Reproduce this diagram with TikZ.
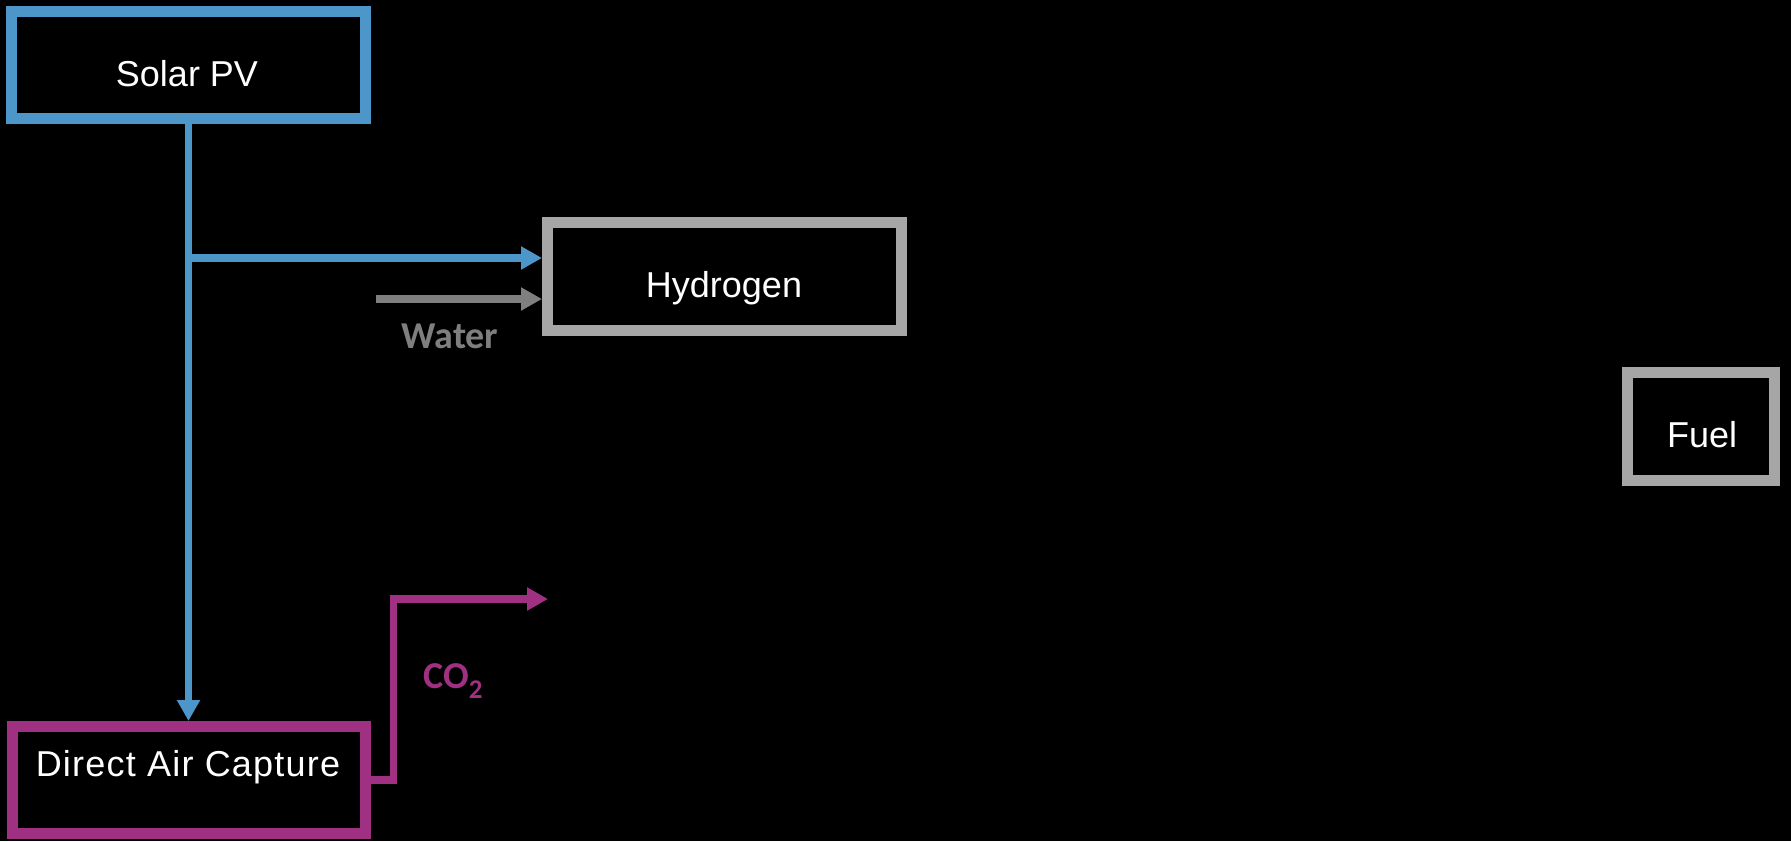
\documentclass[tikz,border=0pt]{standalone}
\usepackage{fontspec}
\setmainfont{Liberation Sans}
\newfontfamily\calib{Carlito}
\usetikzlibrary{arrows.meta}
\definecolor{pvblue}{HTML}{4D96C9}
\definecolor{boxgray}{HTML}{A6A6A6}
\definecolor{watergray}{HTML}{7F7F7F}
\definecolor{dacmag}{HTML}{A03081}
\begin{document}
\begin{tikzpicture}[x=1pt,y=-1pt,
  box/.style={draw=#1, line width=11pt, fill=black, rectangle, inner sep=0pt},
  lbl/.style={text=white, font=\fontsize{36}{43}\selectfont, inner sep=0pt, anchor=base},
  flowlbl/.style={font=\calib\bfseries\fontsize{38}{45}\selectfont, inner sep=0pt, anchor=base},
  flow/.style={line width=7.5pt, -{Triangle[length=21pt,width=22pt]}}]
  % canvas
  \fill[black] (0,0) rectangle (1791,841);
  \useasboundingbox (0,0) rectangle (1791,841);

  % process boxes
  \node[box=pvblue, minimum width=354pt, minimum height=107pt] (solar) at (188.5,65) {};
  \node[lbl] (solarT) at (187,86) {Solar PV};
  \node[box=boxgray, minimum width=354pt, minimum height=108pt] (hyd) at (724.5,276.5) {};
  \node[lbl] (hydT) at (724,297) {Hydrogen};
  \node[box=boxgray, minimum width=147pt, minimum height=108pt] (fuel) at (1701,426.5) {};
  \node[lbl] (fuelT) at (1702,447) {Fuel};
  \node[box=dacmag, minimum width=353pt, minimum height=107pt] (dac) at (188.5,780) {};
  \node[lbl] (dacT) at (188,776) {\addfontfeature{LetterSpace=3.4}Direct Air Capture};

  % electricity from solar
  \coordinate (split) at (solar.south |- 0,258);
  \draw[flow, color=pvblue] (solar.south) -- (solar.south |- dac.north);
  \draw[flow, color=pvblue] (split) -- (split -| hyd.west);

  % water feed
  \coordinate (waterIn) at (376,299);
  \draw[flow, color=watergray] (waterIn) -- (waterIn -| hyd.west);
  \node[flowlbl, text=watergray] (water) at (450,348) {Water};

  % captured CO2
  \coordinate (co2Out) at (548,599);
  \draw[flow, color=dacmag] (dac.east) -- ++(23,0) |- (co2Out);
  \node[flowlbl, text=dacmag] (co2) at (453,688) {CO\raisebox{-10pt}{\fontsize{27}{27}\selectfont 2}};
\end{tikzpicture}
\end{document}
